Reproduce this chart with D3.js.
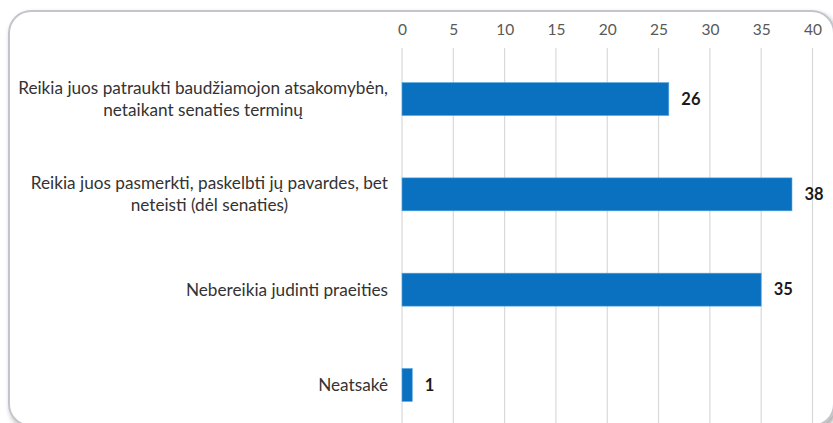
<!DOCTYPE html>
<html>
<head>
<meta charset="utf-8">
<script src="https://cdn.jsdelivr.net/npm/d3@7"></script>
<style>
  html, body { margin: 0; padding: 0; background: #ffffff; }
  svg { display: block; }
</style>
</head>
<body>
<svg id="chart" width="833" height="423"></svg>
<script>
// Survey answers and counts
const categories = [
  ["Reikia juos patraukti baudžiamojon atsakomybėn,", "netaikant senaties terminų"],
  ["Reikia juos pasmerkti, paskelbti jų pavardes, bet", "neteisti (dėl senaties)"],
  ["Nebereikia judinti praeities"],
  ["Neatsakė"]
];
const values = [26, 38, 35, 1];
const xTicks = [0, 5, 10, 15, 20, 25, 30, 35, 40];

const svg = d3.select("#chart");
const font = "Lato, 'Open Sans', sans-serif";

// Card shadow and frame
const defs = svg.append("defs");
const f = defs.append("filter").attr("id", "shadow").attr("x", "-5%").attr("y", "-5%").attr("width", "110%").attr("height", "115%");
f.append("feDropShadow").attr("dx", 2).attr("dy", 3).attr("stdDeviation", 2.5).attr("flood-color", "#000").attr("flood-opacity", 0.35);

svg.append("rect")
  .attr("x", 9).attr("y", 11).attr("width", 825).attr("height", 415)
  .attr("rx", 22).attr("ry", 22)
  .attr("fill", "#ffffff").attr("stroke", "#c4c4cc").attr("stroke-width", 2)
  .attr("filter", "url(#shadow)");

const x = d3.scaleLinear().domain([0, 40]).range([402, 812.5]);
const y = d3.scaleBand()
  .domain(d3.range(categories.length))
  .range([51.4, 432.6])
  .paddingInner(0.654)
  .paddingOuter(0.327);

// Vertical gridlines
svg.append("g").selectAll("line").data(xTicks).join("line")
  .attr("x1", d => x(d)).attr("x2", d => x(d))
  .attr("y1", 48).attr("y2", 423)
  .attr("stroke", "#d9d9d9").attr("stroke-width", 1.2);

// Top axis labels
const axis = svg.append("g").attr("transform", "translate(0,47)")
  .call(d3.axisTop(x).tickValues(xTicks).tickSize(0).tickPadding(12));
axis.select(".domain").remove();
axis.selectAll("text")
  .attr("font-family", font).attr("font-size", 15.5)
  .attr("fill", "#595959");

// Bars
svg.append("g").selectAll("rect").data(values).join("rect")
  .attr("x", x(0))
  .attr("y", (d, i) => y(i))
  .attr("width", d => x(d) - x(0))
  .attr("height", y.bandwidth())
  .attr("fill", "#0a70c0")
  .attr("stroke", "#5aa8e0").attr("stroke-width", 0.6);

// Value labels
svg.append("g").selectAll("text").data(values).join("text")
  .attr("x", d => x(d) + 12.5)
  .attr("y", (d, i) => y(i) + y.bandwidth() / 2)
  .attr("dy", "0.35em")
  .attr("font-family", font).attr("font-size", 16.5).attr("font-weight", "bold")
  .attr("fill", "#1a1a1a")
  .text(d => d);

// Category labels: lines centered within a block that is right-aligned
const rightEdge = 388;
const lineH = 22;
categories.forEach((lines, i) => {
  const cy = y(i) + y.bandwidth() / 2;
  const g = svg.append("g");
  const texts = lines.map((ln, j) => g.append("text")
    .attr("font-family", font).attr("font-size", 17.2)
    .attr("fill", "#333333")
    .attr("text-anchor", "middle")
    .attr("y", cy + (j - (lines.length - 1) / 2) * lineH)
    .attr("dy", "0.35em")
    .text(ln));
  const widest = d3.max(texts, t => t.node().getComputedTextLength());
  texts.forEach(t => t.attr("x", rightEdge - widest / 2));
});
</script>
</body>
</html>
